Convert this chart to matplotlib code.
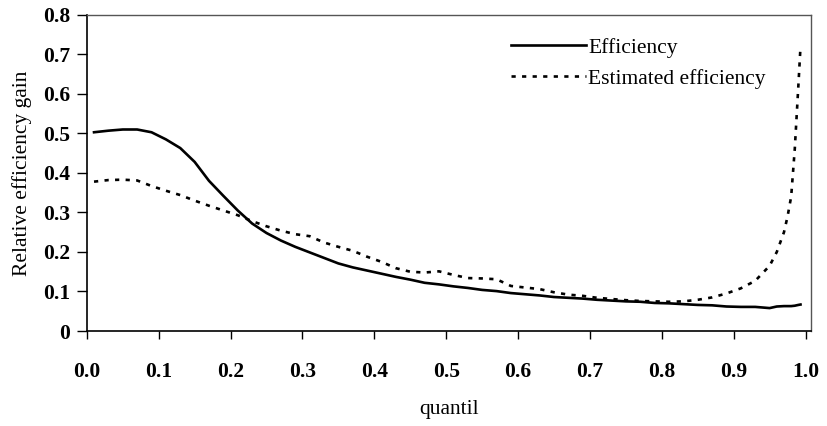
import numpy as np
import matplotlib
matplotlib.use('Agg')
import matplotlib.pyplot as plt

plt.rcParams['font.family'] = ['Liberation Serif', 'DejaVu Serif']

# datos
quantil = [0.01, 0.03, 0.05, 0.07, 0.09, 0.11, 0.13, 0.15, 0.17, 0.19,
           0.21, 0.23, 0.25, 0.27, 0.29, 0.31, 0.33, 0.35, 0.37, 0.39,
           0.41, 0.43, 0.45, 0.47, 0.49, 0.51, 0.53, 0.55, 0.57, 0.59,
           0.61, 0.63, 0.65, 0.67, 0.69, 0.71, 0.73, 0.75, 0.77, 0.79,
           0.81, 0.83, 0.85, 0.87, 0.89, 0.91, 0.93, 0.95, 0.96, 0.97,
           0.975, 0.98, 0.985, 0.99, 0.993]

efficiency = [0.503, 0.507, 0.510, 0.510, 0.503, 0.485, 0.463, 0.428, 0.380, 0.342,
              0.305, 0.272, 0.248, 0.229, 0.213, 0.199, 0.185, 0.171, 0.161, 0.153,
              0.145, 0.137, 0.130, 0.122, 0.118, 0.113, 0.109, 0.104, 0.101, 0.096,
              0.093, 0.090, 0.086, 0.084, 0.082, 0.079, 0.077, 0.075, 0.074, 0.071,
              0.070, 0.068, 0.066, 0.065, 0.062, 0.061, 0.061, 0.058, 0.062, 0.063,
              0.063, 0.063, 0.064, 0.066, 0.067]

est_efficiency = [0.378, 0.382, 0.383, 0.381, 0.367, 0.355, 0.344, 0.330, 0.317, 0.305,
                  0.293, 0.278, 0.265, 0.254, 0.245, 0.240, 0.224, 0.213, 0.203, 0.188,
                  0.175, 0.159, 0.150, 0.148, 0.151, 0.142, 0.134, 0.133, 0.131, 0.114,
                  0.110, 0.106, 0.098, 0.092, 0.089, 0.084, 0.081, 0.078, 0.076, 0.075,
                  0.074, 0.075, 0.079, 0.085, 0.095, 0.108, 0.127, 0.165, 0.200, 0.250,
                  0.290, 0.340, 0.460, 0.620, 0.720]

xticks = [0.0, 0.1, 0.2, 0.3, 0.4, 0.5, 0.6, 0.7, 0.8, 0.9, 1.0]
yticks = [0, 0.1, 0.2, 0.3, 0.4, 0.5, 0.6, 0.7, 0.8]
ytick_labels = ['0', '0.1', '0.2', '0.3', '0.4', '0.5', '0.6', '0.7', '0.8']

fig = plt.figure(figsize=(8.27, 4.26), dpi=100)
ax = fig.add_axes([0.105, 0.223, 0.876, 0.742])

ax.plot(quantil, efficiency, color='black', lw=1.9, label='Efficiency')
ax.plot(quantil, est_efficiency, color='black', lw=1.9, linestyle=(0, (1.6, 2.4)),
        label='Estimated efficiency')

ax.set_xlim(0, 1.008)
ax.set_ylim(0, 0.8)
ax.set_xticks(xticks)
ax.set_xticklabels(['%.1f' % v for v in xticks], fontweight='bold')
ax.set_yticks(yticks)
ax.set_yticklabels(ytick_labels, fontweight='bold')
ax.tick_params(axis='x', direction='out', length=6, width=1, pad=16, labelsize=15.5)
ax.tick_params(axis='y', direction='out', length=7, width=1, pad=5, labelsize=15.5)

for s in ['left', 'bottom']:
    ax.spines[s].set_color('black')
    ax.spines[s].set_linewidth(1.2)
for s in ['top', 'right']:
    ax.spines[s].set_color('#555555')
    ax.spines[s].set_linewidth(1.0)

ax.set_ylabel('Relative efficiency gain', fontsize=15.5, labelpad=8)
ax.set_xlabel('quantil', fontsize=15.5, labelpad=13)

ax.legend(loc='upper left', bbox_to_anchor=(0.57, 0.962), frameon=False,
          fontsize=15.5, handlelength=3.5, handletextpad=0.1, borderpad=0,
          labelspacing=0.5)

plt.savefig('out.png', dpi=100)
